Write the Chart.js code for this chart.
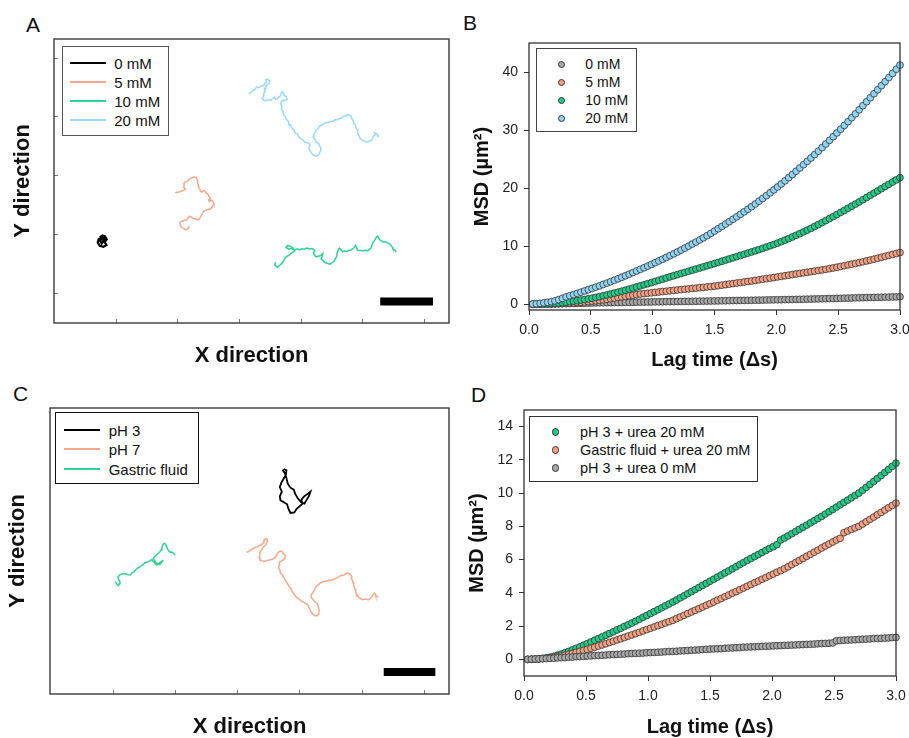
<!DOCTYPE html>
<html>
<head>
<meta charset="utf-8">
<script src="https://cdn.jsdelivr.net/npm/chart.js@4.4.1/dist/chart.umd.min.js"></script>
<style>
  body { margin: 0; background: #fff; }
  #page { position: relative; width: 909px; height: 738px; overflow: hidden; font-family: "Liberation Sans", Arial, sans-serif; color: #111; }
  canvas { position: absolute; }
  .letter { position: absolute; font-size: 21px; line-height: 21px; }
  .legend { position: absolute; box-sizing: border-box; background: #fff; }
  .legend span { position: absolute; line-height: 1; white-space: nowrap; transform: translateY(-50%); }
  .legend i { position: absolute; display: block; }
</style>
</head>
<body>
<div id="page">
  <div class="letter" style="left:26px;top:14px">A</div>
  <div class="letter" style="left:463px;top:12px">B</div>
  <div class="letter" style="left:13px;top:383px">C</div>
  <div class="letter" style="left:471px;top:384px">D</div>
  <canvas id="chartA" width="455" height="370" style="left:0;top:0"></canvas>
  <canvas id="chartB" width="470" height="372" style="left:460px;top:0"></canvas>
  <canvas id="chartC" width="455" height="366" style="left:0;top:372px"></canvas>
  <canvas id="chartD" width="470" height="366" style="left:460px;top:372px"></canvas>
</div>
<script>
// trajectories (positions, arbitrary units)
const trackA0 = [[300,712],[308,706],[316,709],[321,718],[315,726],[320,735],[311,740],[300,737],[294,727],[297,716],[305,714],[312,722],[306,730],[301,722],[310,712],[318,724]];
const trackA5 = [[526,578],[532,577],[538,576],[543,574],[547,572],[552,571],[556,567],[551,561],[553,556],[552,550],[556,546],[561,545],[564,542],[568,538],[571,535],[576,534],[580,532],[586,531],[590,533],[592,539],[594,545],[593,552],[597,558],[596,563],[600,568],[602,574],[606,576],[610,572],[614,573],[617,577],[620,579],[624,582],[626,588],[629,591],[631,596],[626,600],[628,604],[634,600],[637,602],[640,607],[642,612],[638,617],[636,621],[633,625],[630,628],[625,627],[620,630],[615,631],[611,634],[608,639],[605,644],[602,650],[599,656],[594,658],[590,659],[584,656],[579,655],[573,650],[568,649],[564,654],[561,659],[555,660],[549,663],[543,664],[540,668],[541,675],[544,680],[548,684],[553,686],[558,689],[562,688],[566,683],[567,678]];
const trackA10 = [[826,786],[824,794],[832,801],[838,796],[843,792],[848,786],[852,780],[856,772],[862,768],[868,764],[873,760],[878,757],[884,752],[880,744],[872,739],[862,736],[858,742],[866,747],[874,745],[884,749],[891,746],[898,749],[905,746],[912,747],[920,744],[928,746],[936,745],[944,750],[940,758],[942,764],[948,770],[955,768],[962,766],[968,760],[966,770],[963,776],[970,782],[975,787],[983,790],[990,792],[997,787],[1003,782],[1006,775],[1010,768],[1011,758],[1014,750],[1018,744],[1022,748],[1027,755],[1034,752],[1040,754],[1046,750],[1052,750],[1058,745],[1062,742],[1066,736],[1069,742],[1072,750],[1080,751],[1088,752],[1095,750],[1103,752],[1108,747],[1112,745],[1115,736],[1118,728],[1122,722],[1126,716],[1129,710],[1133,708],[1136,715],[1140,720],[1145,723],[1150,726],[1156,725],[1162,728],[1168,731],[1172,735],[1176,741],[1178,746],[1184,750],[1188,756]];
const trackA20 = [[746,282],[752,278],[758,273],[764,270],[770,262],[777,264],[784,257],[790,258],[795,250],[800,247],[797,240],[804,238],[809,244],[806,252],[800,256],[798,262],[793,268],[795,276],[790,283],[791,290],[786,297],[792,301],[798,303],[805,299],[812,301],[818,296],[823,292],[827,298],[832,297],[836,292],[840,290],[843,281],[846,276],[850,280],[852,287],[858,290],[861,298],[855,302],[850,301],[844,306],[842,312],[846,320],[844,328],[849,336],[850,344],[856,350],[858,358],[864,363],[866,371],[872,376],[876,385],[882,390],[885,399],[892,402],[896,410],[902,416],[908,419],[913,426],[920,428],[926,430],[930,437],[926,444],[929,452],[934,458],[938,464],[944,468],[950,469],[955,466],[958,460],[961,452],[962,444],[958,437],[955,430],[948,426],[944,418],[939,412],[941,404],[946,397],[948,390],[954,385],[958,379],[965,376],[970,372],[978,368],[986,368],[992,364],[1000,364],[1004,360],[1012,360],[1016,356],[1024,355],[1028,350],[1036,349],[1042,345],[1048,346],[1053,349],[1054,356],[1059,362],[1060,370],[1066,376],[1068,385],[1074,391],[1072,400],[1077,408],[1080,416],[1087,421],[1094,425],[1100,426],[1107,425],[1114,421],[1117,415],[1120,409],[1125,404],[1123,399],[1130,402],[1133,408],[1135,413]];
const barA = [[1140,904],[1298,904]];

const trackC3 = [[852,298],[860,302],[858,316],[851,328],[845,338],[840,352],[846,366],[840,380],[842,392],[852,398],[862,404],[866,418],[872,430],[884,428],[890,418],[899,410],[908,402],[905,390],[913,380],[922,374],[932,366],[928,378],[921,390],[914,402],[904,398],[894,386],[886,372],[882,360],[872,354],[864,342],[860,326],[856,312],[848,300]];
const trackC7 = [[740,548],[746,546],[752,541],[758,538],[766,533],[772,532],[780,527],[785,526],[790,520],[792,513],[796,508],[801,507],[803,514],[801,520],[798,526],[793,530],[788,536],[785,542],[780,548],[781,555],[778,562],[780,568],[784,572],[791,575],[798,574],[805,572],[812,570],[819,568],[826,564],[830,558],[833,551],[838,546],[842,544],[847,546],[850,552],[856,556],[856,564],[852,569],[848,572],[842,575],[838,578],[839,586],[836,594],[840,601],[842,610],[848,616],[852,624],[856,632],[862,640],[866,648],[874,658],[878,667],[885,676],[890,683],[898,688],[904,694],[912,698],[918,702],[924,704],[926,712],[930,718],[934,727],[940,734],[946,738],[952,738],[957,732],[958,722],[956,712],[952,702],[946,696],[940,690],[934,683],[934,676],[940,668],[944,660],[948,652],[956,645],[962,640],[970,636],[980,634],[988,632],[997,631],[1006,627],[1014,624],[1022,618],[1032,617],[1042,610],[1049,612],[1054,618],[1056,628],[1060,638],[1062,648],[1066,658],[1068,667],[1072,676],[1078,684],[1088,690],[1097,688],[1106,690],[1112,686],[1116,682],[1120,675],[1124,670],[1127,674],[1128,678],[1132,680],[1135,683]];
const trackCg = [[346,636],[350,642],[356,648],[358,642],[360,636],[356,629],[354,622],[359,616],[364,613],[371,613],[378,612],[384,615],[391,616],[396,610],[402,606],[407,600],[412,596],[418,593],[424,588],[430,585],[434,580],[440,578],[446,576],[451,572],[456,570],[459,575],[462,578],[466,583],[470,586],[476,582],[480,578],[486,575],[490,571],[485,578],[480,584],[474,582],[468,580],[464,573],[460,566],[465,560],[470,556],[476,551],[480,546],[484,540],[486,534],[488,528],[490,523],[494,521],[498,525],[501,532],[504,540],[508,545],[512,548],[516,547],[520,550],[523,553],[526,556]];
const barC = [[1152,907],[1307,907]];

const tickA_x = [349,533,718,903,1088,1272];
const tickA_y = [175,350,527,703,880];
const tickC_x = [342,527,713,900,1087,1273];

// MSD curves
const lag = [0.03,0.06,0.09,0.12,0.15,0.18,0.21,0.24,0.27,0.30,0.33,0.36,0.39,0.42,0.45,0.48,0.51,0.54,0.57,0.60,
  0.63,0.66,0.69,0.72,0.75,0.78,0.81,0.84,0.87,0.90,0.93,0.96,0.99,1.02,1.05,1.08,1.11,1.14,1.17,1.20,
  1.23,1.26,1.29,1.32,1.35,1.38,1.41,1.44,1.47,1.50,1.53,1.56,1.59,1.62,1.65,1.68,1.71,1.74,1.77,1.80,
  1.83,1.86,1.89,1.92,1.95,1.98,2.01,2.04,2.07,2.10,2.13,2.16,2.19,2.22,2.25,2.28,2.31,2.34,2.37,2.40,
  2.43,2.46,2.49,2.52,2.55,2.58,2.61,2.64,2.67,2.70,2.73,2.76,2.79,2.82,2.85,2.88,2.91,2.94,2.97,3.00];

const msdB0 = [0.00,0.01,0.02,0.03,0.04,0.05,0.06,0.07,0.09,0.10, 0.12,0.13,0.15,0.16,0.18,0.19,0.21,0.22,0.24,0.25,
  0.26,0.27,0.28,0.29,0.30,0.31,0.32,0.33,0.35,0.36, 0.37,0.38,0.39,0.40,0.41,0.42,0.43,0.44,0.45,0.46,
  0.47,0.48,0.49,0.50,0.51,0.52,0.53,0.54,0.55,0.56, 0.57,0.58,0.59,0.61,0.62,0.63,0.64,0.65,0.67,0.68,
  0.69,0.70,0.71,0.73,0.74,0.75,0.76,0.77,0.79,0.80, 0.81,0.83,0.84,0.86,0.87,0.89,0.90,0.92,0.93,0.95,
  0.97,0.98,1.00,1.02,1.04,1.05,1.07,1.09,1.10,1.12, 1.14,1.15,1.17,1.19,1.20,1.22,1.23,1.25,1.26,1.28];
const msdB5 = [0.00,0.01,0.01,0.02,0.03,0.04,0.06,0.08,0.11,0.15, 0.19,0.23,0.28,0.33,0.39,0.45,0.52,0.59,0.67,0.75,
  0.85,0.95,1.05,1.15,1.25,1.35,1.45,1.55,1.65,1.75, 1.82,1.89,1.96,2.03,2.10,2.17,2.24,2.31,2.38,2.45,
  2.51,2.58,2.64,2.71,2.77,2.84,2.90,2.97,3.03,3.10, 3.19,3.28,3.37,3.46,3.55,3.64,3.73,3.82,3.91,4.00,
  4.10,4.20,4.30,4.40,4.50,4.60,4.70,4.80,4.90,5.00, 5.10,5.20,5.30,5.40,5.50,5.60,5.70,5.80,5.90,6.00,
  6.12,6.24,6.37,6.50,6.63,6.76,6.89,7.02,7.16,7.30, 7.45,7.60,7.76,7.92,8.08,8.24,8.40,8.57,8.73,8.90];
const msdB10 = [0.00,0.01,0.03,0.05,0.08,0.11,0.15,0.20,0.27,0.35, 0.43,0.52,0.61,0.71,0.81,0.92,1.04,1.17,1.31,1.45,
  1.60,1.75,1.91,2.07,2.24,2.41,2.59,2.77,2.96,3.15, 3.34,3.53,3.73,3.92,4.12,4.31,4.51,4.71,4.90,5.10,
  5.29,5.48,5.67,5.86,6.05,6.24,6.43,6.62,6.81,7.00, 7.20,7.40,7.60,7.80,8.00,8.20,8.40,8.60,8.80,9.00,
  9.20,9.41,9.62,9.84,10.06,10.29,10.53,10.78,11.04,11.30, 11.58,11.87,12.16,12.46,12.76,13.07,13.39,13.72,14.06,14.40,
  14.75,15.10,15.45,15.81,16.17,16.53,16.89,17.25,17.62,18.00, 18.38,18.76,19.14,19.52,19.90,20.28,20.66,21.04,21.42,21.80];
const msdB20 = [0.03,0.08,0.15,0.23,0.32,0.44,0.58,0.78,1.00,1.25, 1.45,1.65,1.86,2.07,2.28,2.50,2.71,2.93,3.16,3.40,
  3.64,3.88,4.13,4.38,4.64,4.90,5.17,5.44,5.72,6.00, 6.28,6.57,6.86,7.15,7.45,7.75,8.05,8.36,8.68,9.00,
  9.33,9.67,10.01,10.36,10.71,11.07,11.43,11.80,12.20,12.60, 13.00,13.40,13.81,14.22,14.64,15.06,15.49,15.92,16.36,16.80,
  17.27,17.74,18.22,18.70,19.19,19.69,20.19,20.71,21.25,21.80, 22.35,22.91,23.47,24.04,24.61,25.19,25.78,26.37,26.98,27.60,
  28.23,28.86,29.50,30.15,30.80,31.46,32.12,32.79,33.49,34.20, 34.88,35.57,36.26,36.95,37.65,38.35,39.05,39.76,40.48,41.20];

const msdDacid = [0.00,0.01,0.02,0.04,0.06,0.09,0.13,0.18,0.25,0.32, 0.40,0.48,0.57,0.66,0.75,0.85,0.95,1.05,1.15,1.25,
  1.35,1.45,1.56,1.66,1.77,1.87,1.98,2.08,2.19,2.30, 2.41,2.53,2.64,2.76,2.87,2.99,3.10,3.22,3.33,3.45,
  3.57,3.70,3.82,3.95,4.07,4.20,4.32,4.45,4.57,4.70, 4.82,4.95,5.07,5.20,5.32,5.45,5.57,5.70,5.82,5.95,
  6.07,6.19,6.31,6.43,6.55,6.67,6.78,6.90,7.18,7.30, 7.43,7.56,7.69,7.82,7.95,8.08,8.21,8.34,8.47,8.60,
  8.74,8.88,9.02,9.16,9.30,9.44,9.58,9.72,9.86,10.00, 10.17,10.35,10.52,10.70,10.88,11.06,11.24,11.42,11.61,11.80];
const msdDgastric = [0.00,0.01,0.02,0.03,0.05,0.07,0.09,0.12,0.16,0.20, 0.25,0.30,0.36,0.42,0.48,0.54,0.60,0.67,0.73,0.80,
  0.87,0.94,1.02,1.09,1.17,1.24,1.32,1.40,1.47,1.55, 1.63,1.71,1.79,1.87,1.95,2.03,2.11,2.19,2.27,2.35,
  2.45,2.55,2.65,2.75,2.85,2.95,3.05,3.15,3.25,3.35, 3.45,3.56,3.66,3.77,3.87,3.98,4.08,4.19,4.29,4.40,
  4.50,4.61,4.71,4.82,4.92,5.03,5.13,5.24,5.34,5.45, 5.57,5.70,5.82,5.95,6.07,6.20,6.32,6.45,6.57,6.70,
  6.82,6.94,7.06,7.18,7.28,7.62,7.72,7.82,7.91,8.00, 8.14,8.28,8.42,8.56,8.70,8.84,8.98,9.12,9.26,9.40];
const msdDzero = [0.00,0.01,0.02,0.03,0.04,0.05,0.06,0.07,0.09,0.10, 0.11,0.13,0.14,0.16,0.17,0.18,0.20,0.21,0.23,0.24,
  0.25,0.26,0.28,0.29,0.30,0.31,0.32,0.34,0.35,0.36, 0.37,0.38,0.40,0.41,0.42,0.43,0.44,0.46,0.47,0.48,
  0.49,0.51,0.52,0.53,0.55,0.56,0.57,0.59,0.60,0.62, 0.63,0.64,0.65,0.67,0.68,0.69,0.70,0.71,0.73,0.74,
  0.75,0.76,0.77,0.78,0.79,0.80,0.81,0.82,0.83,0.84, 0.85,0.86,0.87,0.88,0.89,0.90,0.91,0.92,0.94,0.95,
  0.96,0.97,0.99,1.12,1.14,1.15,1.16,1.17,1.18,1.20, 1.21,1.22,1.23,1.25,1.26,1.27,1.28,1.29,1.31,1.32];

const lagTicks = [0, 0.5, 1, 1.5, 2, 2.5, 3];
const msdTicksB = [0, 10, 20, 30, 40];
const msdTicksD = [0, 2, 4, 6, 8, 10, 12, 14];

const FONT = '"Liberation Sans", Arial, sans-serif';
const GRAY = '#a8a8a8', SALMON = '#f4a183', GREEN = '#22cc88', BLUE = '#8fd3f5';
const LGRAY = '#000000', LSALMON = '#f7a98e', LGREEN = '#30d393', LBLUE = '#9adaf8';

// box around the plot area
const frame = {
  id: 'frame',
  afterDraw(chart, args, opts) {
    const a = chart.chartArea, ctx = chart.ctx;
    ctx.save();
    ctx.strokeStyle = opts.color || '#333';
    ctx.lineWidth = opts.width || 1.3;
    ctx.strokeRect(a.left, a.top, a.right - a.left, a.bottom - a.top);
    ctx.restore();
  }
};
Chart.register(frame);

const pts = arr => arr.map(p => ({x: p[0], y: p[1]}));
const xy = (xs, ys) => xs.map((x, i) => ({x: x, y: ys[i]}));
const setTicks = list => s => { s.ticks = list.map(v => ({value: v})); };

function track(label, arr, color, w) {
  return {label: label, data: pts(arr), showLine: true, borderColor: color, backgroundColor: color,
    borderWidth: w || 1.5, pointRadius: 0, tension: 0};
}
function bar(arr) {
  return {data: pts(arr), showLine: true, borderColor: '#000', borderWidth: 8, borderCapStyle: 'butt', pointRadius: 0};
}
function dots(label, ys, color, order) {
  return {label: label, data: xy(lag, ys), showLine: false, backgroundColor: color, borderColor: '#333',
    pointRadius: 3.4, pointBorderWidth: 0.8, order: order, clip: 8};
}

function trackChart(id, sets, box) {
  return new Chart(document.getElementById(id), {
    type: 'scatter',
    data: {datasets: sets},
    options: {
      responsive: false, animation: false, devicePixelRatio: 1,
      layout: {padding: box.pad},
      plugins: {legend: {display: false}, tooltip: {enabled: false}, frame: {color: '#3a3a3a', width: 1.4}},
      scales: {
        x: {type: 'linear', min: box.xr[0], max: box.xr[1], afterBuildTicks: setTicks(box.xt),
          ticks: {display: false}, border: {display: false},
          grid: {drawOnChartArea: false, tickLength: -4, color: '#777', lineWidth: 1},
          title: {display: true, text: 'X direction', font: {family: FONT, size: 22, weight: 'bold', lineHeight: 1}, color: '#111', padding: {top: 0, bottom: box.tx}},
          afterFit: s => { s.height = box.xh; }},
        y: {type: 'linear', reverse: true, min: box.yr[0], max: box.yr[1], afterBuildTicks: setTicks(box.yt),
          ticks: {display: false}, border: {display: false},
          grid: {display: box.yt.length > 0, drawOnChartArea: false, tickLength: -4, color: '#777', lineWidth: 1},
          title: {display: true, text: 'Y direction', font: {family: FONT, size: 22, weight: 'bold', lineHeight: 1}, color: '#111', padding: {top: box.ty, bottom: 0}},
          afterFit: s => { s.width = box.yw; }}
      }
    }
  });
}

function msdChart(id, sets, box) {
  const tickFont = {family: FONT, size: 14};
  return new Chart(document.getElementById(id), {
    type: 'scatter',
    data: {datasets: sets},
    options: {
      responsive: false, animation: false, devicePixelRatio: 1,
      layout: {padding: box.pad},
      plugins: {legend: {display: false}, tooltip: {enabled: false}, frame: {color: '#333', width: 1.3}},
      scales: {
        x: {type: 'linear', min: 0, max: 3, afterBuildTicks: setTicks(lagTicks),
          ticks: {font: tickFont, color: '#222', padding: 7, maxRotation: 0, callback: v => v.toFixed(1)},
          border: {display: false},
          grid: {drawOnChartArea: false, tickLength: 5, color: '#333', lineWidth: 1},
          title: {display: true, text: 'Lag time (Δs)', font: {family: FONT, size: 20, weight: 'bold', lineHeight: 1}, color: '#111', padding: {top: 0, bottom: box.tx}},
          afterFit: s => { s.height = box.xh; }},
        y: {type: 'linear', min: -1, max: box.ymax, afterBuildTicks: setTicks(box.yt),
          ticks: {font: tickFont, color: '#222', padding: 6},
          border: {display: false},
          grid: {drawOnChartArea: false, tickLength: 5, color: '#333', lineWidth: 1},
          title: {display: true, text: 'MSD (µm²)', font: {family: FONT, size: 20, weight: 'bold', lineHeight: 1}, color: '#111', padding: {top: box.ty, bottom: 0}},
          afterFit: s => { s.width = box.yw; }}
      }
    }
  });
}

// html legend built from the chart's datasets
function htmlLegend(chart, o) {
  const page = document.getElementById('page');
  const box = document.createElement('div');
  box.className = 'legend';
  Object.assign(box.style, {left: o.left + 'px', top: o.top + 'px', width: o.w + 'px', height: o.h + 'px',
    border: o.border, fontSize: o.fs + 'px'});
  chart.data.datasets.filter(d => d.label).forEach((d, i) => {
    const cy = o.y0 + i * o.dy;
    const sw = document.createElement('i');
    if (o.dot) {
      Object.assign(sw.style, {left: (o.sx - 3.5) + 'px', top: (cy - 3.5) + 'px', width: '5.6px', height: '5.6px',
        borderRadius: '50%', background: d.backgroundColor, border: '0.8px solid #333'});
    } else {
      Object.assign(sw.style, {left: o.sx + 'px', top: (cy - 1) + 'px', width: o.sw + 'px', height: '2px', background: d.borderColor});
    }
    const t = document.createElement('span');
    t.textContent = d.label;
    Object.assign(t.style, {left: o.tx + 'px', top: cy + 'px'});
    box.appendChild(sw);
    box.appendChild(t);
  });
  page.appendChild(box);
}

const chartA = trackChart('chartA', [
  track('0 mM', trackA0, LGRAY, 2.2),
  track('5 mM', trackA5, LSALMON),
  track('10 mM', trackA10, LGREEN),
  track('20 mM', trackA20, LBLUE),
  bar(barA)
], {pad: {top: 39, right: 6, left: 0, bottom: 0}, xr: [163, 1346], yr: [118, 968], xt: tickA_x, yt: tickA_y,
    xh: 47, yw: 54, tx: 3, ty: 12});

const chartB = msdChart('chartB', [
  dots('0 mM', msdB0, GRAY, 3),
  dots('5 mM', msdB5, SALMON, 2),
  dots('10 mM', msdB10, GREEN, 1),
  dots('20 mM', msdB20, BLUE, 0)
], {pad: {top: 43, right: 30, left: 0, bottom: 0}, ymax: 45, yt: msdTicksB, xh: 62, yw: 69, tx: 2, ty: 12.7});

const chartC = trackChart('chartC', [
  track('pH 3', trackC3, LGRAY, 1.8),
  track('pH 7', trackC7, LSALMON),
  track('Gastric fluid', trackCg, LGREEN),
  bar(barC)
], {pad: {top: 36, right: 6, left: 0, bottom: 0}, xr: [150, 1348], yr: [115, 973], xt: tickC_x, yt: [],
    xh: 44, yw: 50, tx: 0, ty: 7.3});

const chartD = msdChart('chartD', [
  dots('pH 3 + urea 20 mM', msdDacid, GREEN, 2),
  dots('Gastric fluid + urea 20 mM', msdDgastric, SALMON, 1),
  dots('pH 3 + urea 0 mM', msdDzero, GRAY, 0)
], {pad: {top: 38, right: 34, left: 0, bottom: 0}, ymax: 15, yt: msdTicksD, xh: 62, yw: 64, tx: 1, ty: 7.5});

htmlLegend(chartA, {left: 61.7, top: 45.7, w: 107.6, h: 90.3, border: '1.3px solid #555', fs: 15, y0: 16.6, dy: 19, sx: 7.6, sw: 35.7, tx: 51.6});
htmlLegend(chartB, {left: 536, top: 48, w: 100.7, h: 84.3, border: '1.3px solid #444', fs: 14, y0: 15.3, dy: 18, sx: 24, dot: true, tx: 48.3});
htmlLegend(chartC, {left: 55, top: 412.3, w: 143.7, h: 72, border: '1.3px solid #111', fs: 15, y0: 17, dy: 19.2, sx: 8.3, sw: 36, tx: 52.7});
htmlLegend(chartD, {left: 529.3, top: 415.7, w: 229, h: 66, border: '1.3px solid #333', fs: 14.5, y0: 15.3, dy: 17.8, sx: 25, dot: true, tx: 49.7});
</script>
</body>
</html>
